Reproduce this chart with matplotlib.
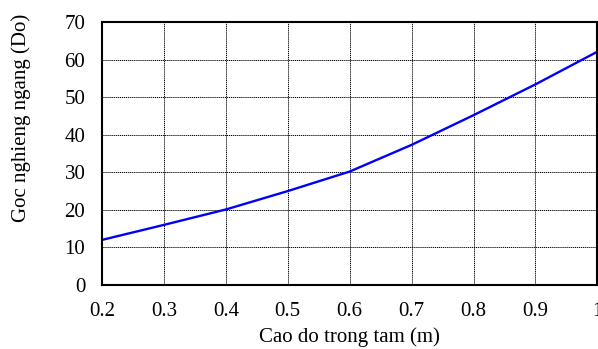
import numpy as np
import matplotlib.pyplot as plt

plt.rcParams['font.family'] = ['Liberation Serif', 'DejaVu Serif']

# cao do trong tam (m) va goc nghieng ngang (do)
cao_do = [0.2, 0.3, 0.4, 0.5, 0.6, 0.7, 0.8, 0.9, 1.0]
goc_nghieng = [12.0, 16.0, 20.1, 25.0, 30.2, 37.3, 45.2, 53.4, 62.1]

fig = plt.figure(figsize=(5.98, 3.49), dpi=100)
ax = fig.add_axes([0.1706, 0.1834, 0.8284, 0.7536])

ax.plot(cao_do, goc_nghieng, color='blue', linewidth=1.7)

ax.set_xlim(0.2, 1.0)
ax.set_ylim(0, 70)
ax.set_xticks([0.2, 0.3, 0.4, 0.5, 0.6, 0.7, 0.8, 0.9, 1.0])
ax.set_xticklabels(['0.2', '0.3', '0.4', '0.5', '0.6', '0.7', '0.8', '0.9', '1'])
ax.set_yticks(range(0, 71, 10))
ax.grid(True, color='black', linestyle=(0, (1.2, 0.8)), linewidth=0.7)
ax.tick_params(length=0, labelsize=15, pad=12)
for s in ax.spines.values():
    s.set_linewidth(1.5)

ax.set_xlabel('Cao do trong tam (m)', fontsize=15, labelpad=5)
ax.set_ylabel('Goc nghieng ngang (Do)', fontsize=15)
ax.yaxis.set_label_coords(-0.143, 0.635)

fig.savefig('out.png', dpi=100)
